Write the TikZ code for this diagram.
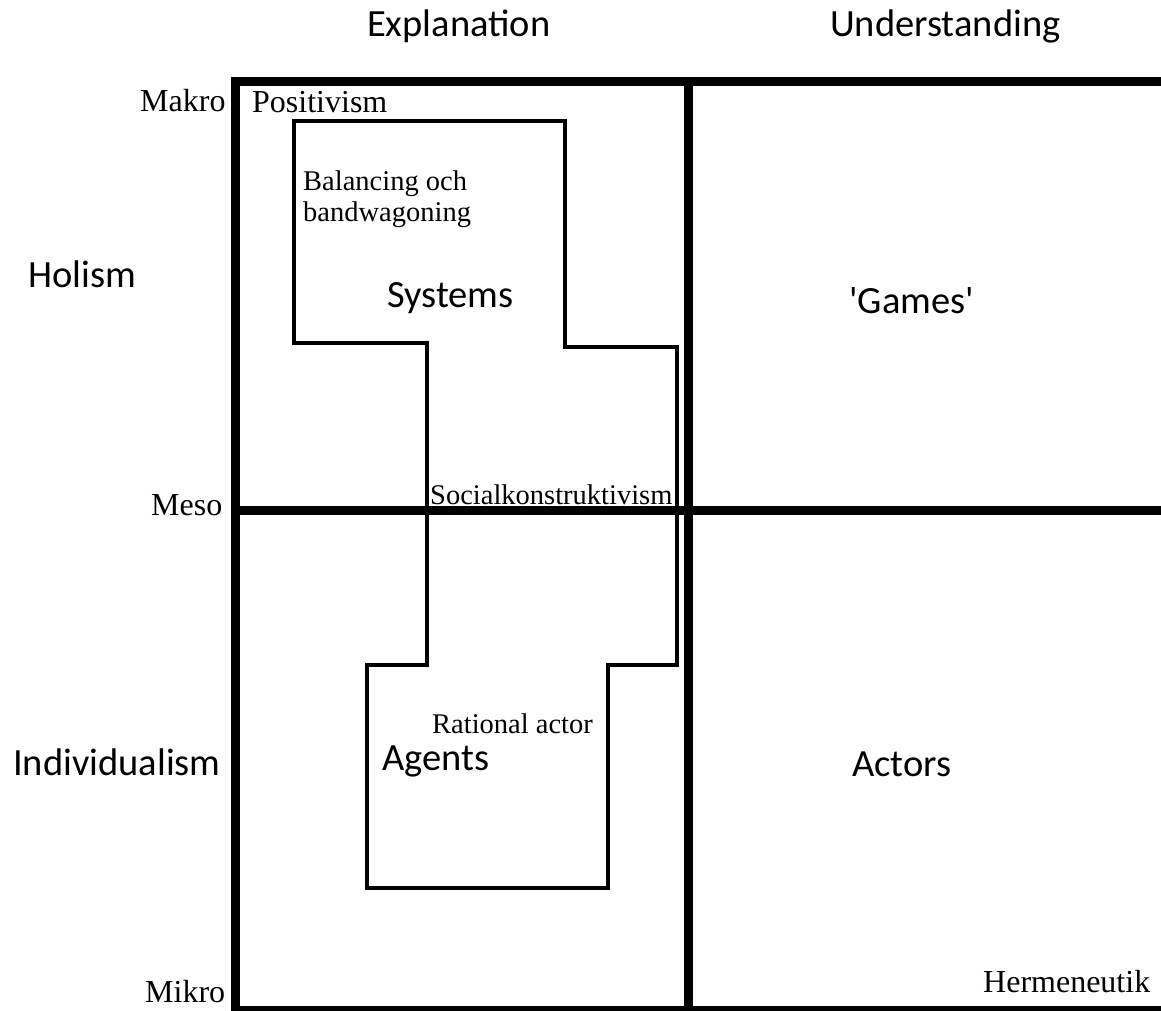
\documentclass[tikz,border=0pt]{standalone}
\usepackage{fontspec}
\setmainfont{Liberation Serif}
\newfontfamily\calib{Carlito}
\tikzset{>=stealth}
\tikzset{
    lbl/.style={inner sep=0pt, anchor=base west},
    sanslbl/.style={lbl, font=\calib\fontsize{38.5}{46}\selectfont},
    edgelbl/.style={lbl, font=\fontsize{32}{38}\selectfont},
    innerlbl/.style={lbl, font=\fontsize{28.5}{32}\selectfont},
    frame/.style={line width=9pt, line join=miter},
    zone/.style={line width=4.5pt, line join=miter}
}
\begin{document}
\begin{tikzpicture}[x=1pt, y=-1pt]
    \useasboundingbox (0,0) rectangle (1161,1011);
    \draw[frame] (235,1016) -- (235,82) -- (1170,82);
    \draw[frame] (688,82) -- (688,1016);
    \draw[frame] (235,510) -- (1170,510);
    \draw[frame] (235,1010) -- (1170,1010);
    \draw[zone] (294,121) -- (565,121) -- (565,347) -- (677,347) -- (677,665) -- (608,665)
        -- (608,888) -- (367,888) -- (367,665) -- (427,665) -- (427,343) -- (294,343) -- cycle;
    \node[sanslbl] (expl) at (367,37) {Explanation};
    \node[sanslbl] (und) at (830,37) {Understanding};
    \node[sanslbl] (holism) at (28,287) {Holism};
    \node[sanslbl] (indiv) at (13,775) {Individualism};
    \node[sanslbl] (systems) at (387,307) {Systems};
    \node[sanslbl] (games) at (849,313) {'Games'};
    \node[sanslbl] (agents) at (382,770) {Agents};
    \node[sanslbl] (actors) at (852,776) {Actors};
    \node[edgelbl] (makro) at (140,112) {Makro};
    \node[edgelbl] (pos) at (252,113) {Positivism};
    \node[edgelbl] (meso) at (151,515) {Meso};
    \node[edgelbl] (mikro) at (145,1002) {Mikro};
    \node[edgelbl] (herm) at (983,992) {Hermeneutik};
    \node[innerlbl] (bal) at (303,190) {Balancing och};
    \node[innerlbl] (band) at (303,222) {bandwagoning};
    \node[innerlbl] (social) at (430,504) {Socialkonstruktivism};
    \node[innerlbl] (rational) at (432,733) {Rational actor};
\end{tikzpicture}
\end{document}
